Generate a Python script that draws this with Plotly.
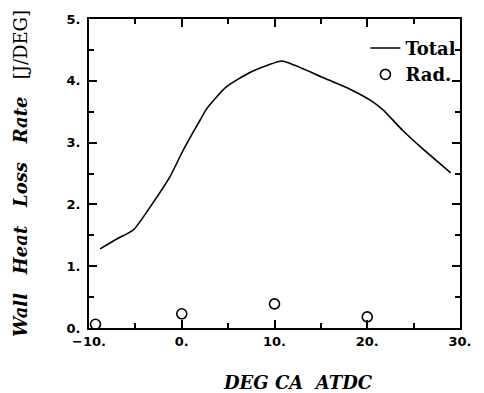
import plotly.graph_objects as go

# Total wall heat loss rate curve
total_x = [-8.8, -7.0, -5.2, -3.4, -1.3, 0.1, 1.2, 2.0, 2.7, 4.8, 7.3, 9.4, 10.8, 12.2, 15.4, 18.2, 20.6, 21.7, 23.8, 25.9, 29.0]
total_y = [1.28, 1.44, 1.59, 1.96, 2.44, 2.86, 3.16, 3.37, 3.55, 3.90, 4.13, 4.26, 4.32, 4.25, 4.04, 3.86, 3.66, 3.53, 3.20, 2.91, 2.51]

# Radiation points
rad_x = [-9.3, 0.0, 10.0, 20.0]
rad_y = [0.06, 0.23, 0.39, 0.18]

x_tickvals = [-10, 0, 10, 20, 30]
x_ticktext = ["\u221210.", "0.", "10.", "20.", "30."]
y_tickvals = [0, 1, 2, 3, 4, 5]
y_ticktext = ["0.", "1.", "2.", "3.", "4.", "5."]

fig = go.Figure()
fig.add_trace(go.Scatter(x=total_x, y=total_y, mode="lines", name="<b>Total</b>",
                         line=dict(color="black", width=1.6, shape="spline", smoothing=0.6)))
fig.add_trace(go.Scatter(x=rad_x, y=rad_y, mode="markers", name="<b>Rad.</b>",
                         marker=dict(symbol="circle-open", size=10, color="black",
                                     line=dict(width=1.6, color="black"))))

tickfont = dict(family="DejaVu Sans", size=13, color="black", weight="bold")
sp = "&nbsp;" * 3
fig.update_layout(
    width=484, height=393,
    margin=dict(l=89, r=15, t=19, b=65),
    paper_bgcolor="white", plot_bgcolor="white",
    showlegend=True,
    legend=dict(x=0.745, xanchor="left", y=0.965, yanchor="top",
                bgcolor="rgba(0,0,0,0)", borderwidth=0,
                font=dict(family="DejaVu Serif", size=18, color="black"),
                itemwidth=30, tracegroupgap=0,
                entrywidth=100, entrywidthmode="pixels"),
    xaxis=dict(range=[-10, 30], tickvals=x_tickvals, ticktext=x_ticktext,
               ticks="inside", ticklen=8, tickwidth=1.5, tickcolor="black",
               minor=dict(dtick=5, ticks="inside", ticklen=5, tickwidth=1.5, tickcolor="black"),
               showline=True, linewidth=2, linecolor="black", mirror="ticks",
               showgrid=False, zeroline=False, tickfont=tickfont),
    yaxis=dict(range=[0, 5], tickvals=y_tickvals, ticktext=y_ticktext,
               ticks="inside", ticklen=8, tickwidth=1.5, tickcolor="black",
               minor=dict(dtick=0.5, ticks="inside", ticklen=5, tickwidth=1.5, tickcolor="black"),
               showline=True, linewidth=2, linecolor="black", mirror="ticks",
               showgrid=False, zeroline=False, tickfont=tickfont,
               ticklabelstandoff=4,
               title=dict(text="<i><b>Wall" + sp + "Heat" + sp + "Loss" + sp + "Rate</b></i>" + sp + "[J/DEG]",
                          font=dict(family="DejaVu Serif", size=18, color="black"),
                          standoff=34)),
    annotations=[dict(text="<b><i>DEG&nbsp;CA&nbsp;&nbsp;ATDC</i></b>",
                      xref="paper", yref="paper", x=0.563, y=-0.175,
                      xanchor="center", yanchor="middle", showarrow=False,
                      font=dict(family="DejaVu Serif", size=18, color="black"))],
)

fig.write_html("out.html")
